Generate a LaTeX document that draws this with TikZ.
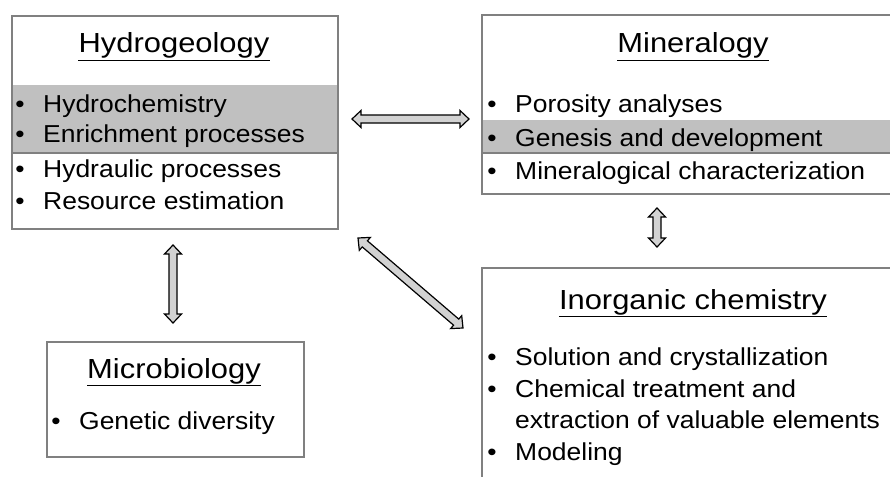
\documentclass[tikz,border=0pt]{standalone}
\usepackage{fontspec}
\setmainfont{Liberation Sans}
\newfontfamily\ttlfont[FakeStretch=1.12]{Liberation Sans}
\newfontfamily\itmfont[FakeStretch=1.08]{Liberation Sans}
\usetikzlibrary{calc}
\definecolor{boxgray}{RGB}{128,128,128}
\definecolor{bandgray}{RGB}{192,192,192}
\definecolor{arrowgray}{RGB}{210,210,210}
\newcommand\arHL{9pt}
\newcommand\arHW{8.5pt}
\newcommand\arSW{4pt}
\begin{document}
\begin{tikzpicture}[x=1pt,y=-1pt,
  box/.style={draw=boxgray, line width=1.8pt},
  band/.style={fill=bandgray, draw=none},
  ttl/.style={font=\ttlfont\fontsize{27.6}{32}\selectfont, inner sep=0pt, anchor=base},
  itm/.style={font=\itmfont\fontsize{24.5}{29}\selectfont, inner sep=0pt, anchor=base west},
  bul/.style={font=\itmfont\fontsize{24.5}{29}\selectfont, inner sep=0pt, anchor=base},
  uline/.style={draw=black, line width=1.4pt},
  blockarrow/.style={fill=arrowgray, draw=black, line width=1.2pt, line join=miter,
    to path={let \p1=(\tikztostart), \p2=(\tikztotarget), \n1={atan2(\y2-\y1,\x2-\x1)} in
      (\p1) -- ($(\p1)+(\n1:\arHL)+(\n1+90:\arHW)$) -- ($(\p1)+(\n1:\arHL)+(\n1+90:\arSW)$)
      -- ($(\p2)+(\n1+180:\arHL)+(\n1+90:\arSW)$) -- ($(\p2)+(\n1+180:\arHL)+(\n1+90:\arHW)$)
      -- (\p2) -- ($(\p2)+(\n1+180:\arHL)+(\n1-90:\arHW)$) -- ($(\p2)+(\n1+180:\arHL)+(\n1-90:\arSW)$)
      -- ($(\p1)+(\n1:\arHL)+(\n1-90:\arSW)$) -- ($(\p1)+(\n1:\arHL)+(\n1-90:\arHW)$) -- cycle}}
]
\useasboundingbox[fill=white] (0,0) rectangle (890,476);

% ---------- Hydrogeology ----------
\path[band] (11,85) rectangle (337,153);
\draw[box] (11,153) -- (337,153);
\node[box, anchor=north west, minimum width=326pt, minimum height=213pt, inner sep=0pt] (hydro) at (11,15) {};
\node[ttl] (hydroT) at (174,53) {Hydrogeology};
\draw[uline] ($(hydroT.south west)+(0,1.5)$) -- ($(hydroT.south east)+(0,1.5)$);
\node[bul] (hb1) at (20,112) {•}; \node[itm] (hi1) at (43,112) {Hydrochemistry};
\node[bul] (hb2) at (20,142) {•}; \node[itm] (hi2) at (43,142) {Enrichment processes};
\node[bul] (hb3) at (20,177) {•}; \node[itm] (hi3) at (43,177) {Hydraulic processes};
\node[bul] (hb4) at (20,209) {•}; \node[itm] (hi4) at (43,209) {Resource estimation};

% ---------- Mineralogy ----------
\path[band] (482,120) rectangle (892,153);
\draw[box] (482,153) -- (892,153);
\draw[box] (892,15) -- (482,15) -- (482,194) -- (892,194);
\node[ttl] (minT) at (693,53) {Mineralogy};
\draw[uline] ($(minT.south west)+(0,1.5)$) -- ($(minT.south east)+(0,1.5)$);
\node[bul] (mb1) at (492,112) {•}; \node[itm] (mi1) at (515,112) {Porosity analyses};
\node[bul] (mb2) at (492,146) {•}; \node[itm] (mi2) at (515,146) {Genesis and development};
\node[bul] (mb3) at (492,179) {•}; \node[itm] (mi3) at (515,179) {Mineralogical characterization};

% ---------- Inorganic chemistry ----------
\draw[box] (892,268) -- (482,268) -- (482,480);
\node[ttl] (inoT) at (693,309) {Inorganic chemistry};
\draw[uline] ($(inoT.south west)+(0,1.5)$) -- ($(inoT.south east)+(0,1.5)$);
\node[bul] (ib1) at (492,365) {•}; \node[itm] (ii1) at (515,365) {Solution and crystallization};
\node[bul] (ib2) at (492,397) {•}; \node[itm] (ii2) at (515,397) {Chemical treatment and};
\node[itm] (ii3) at (515,428) {extraction of valuable elements};
\node[bul] (ib4) at (492,460) {•}; \node[itm] (ii4) at (515,460) {Modeling};

% ---------- Microbiology ----------
\node[box, anchor=north west, minimum width=257pt, minimum height=115pt, inner sep=0pt] (micro) at (46,341) {};
\node[ttl] (micT) at (174,378) {Microbiology};
\draw[uline] ($(micT.south west)+(0,1.5)$) -- ($(micT.south east)+(0,1.5)$);
\node[bul] (cb1) at (56,429) {•}; \node[itm] (ci1) at (79,429) {Genetic diversity};

% ---------- arrows ----------
\coordinate (hmA) at (352,119); \coordinate (hmB) at (469,119);
\coordinate (hcA) at (173,245); \coordinate (hcB) at (173,323);
\coordinate (miA) at (657,208); \coordinate (miB) at (657,247);
\coordinate (hiA) at (358,238); \coordinate (hiB) at (463,328);
\draw[blockarrow] (hmA) to (hmB);
\draw[blockarrow] (hcA) to (hcB);
\draw[blockarrow] (miA) to (miB);
\draw[blockarrow] (hiA) to (hiB);
\end{tikzpicture}
\end{document}
